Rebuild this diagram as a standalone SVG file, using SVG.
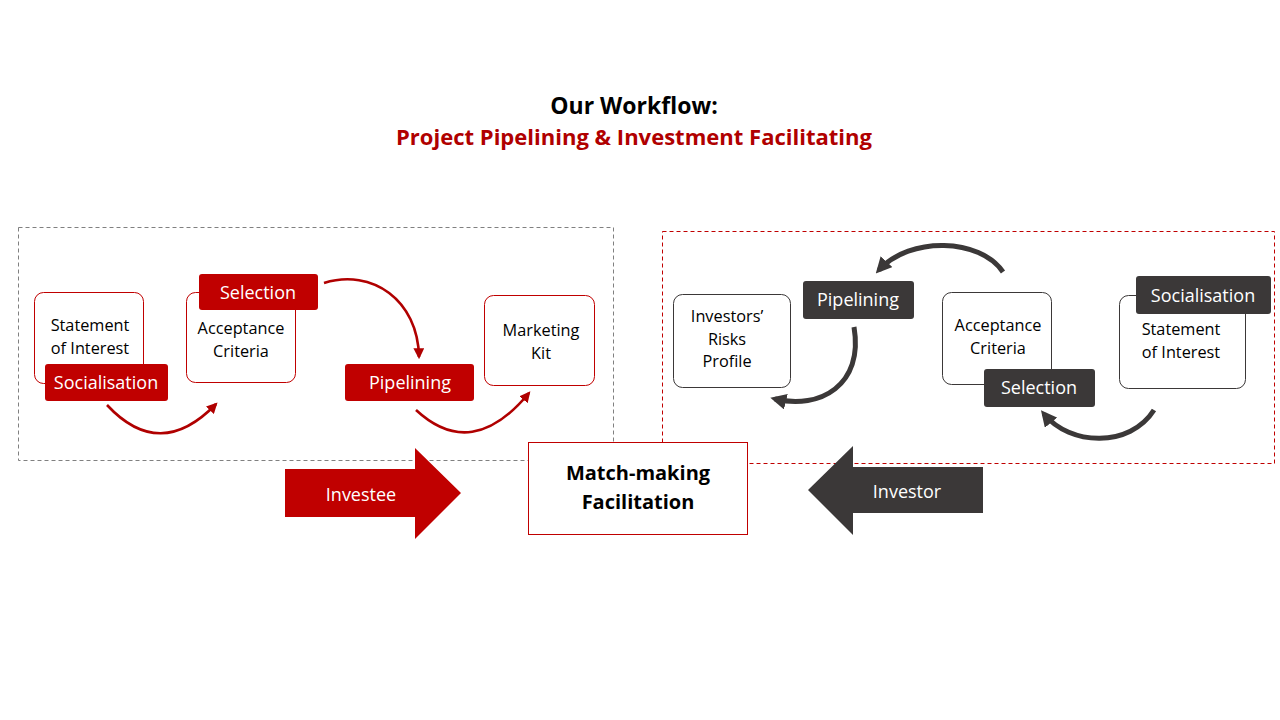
<svg xmlns="http://www.w3.org/2000/svg" width="1280" height="720" viewBox="0 0 1280 720">
<defs>
<style>
.t{font-family:"Open Sans","Liberation Sans",sans-serif;}
.box{fill:#fff;stroke-width:1;}
.rbox{stroke:#c00000;}
.dbox{stroke:#3b3838;}
.lbl{font-size:18px;fill:#fff;text-anchor:middle;dominant-baseline:central;}
.txt{font-size:16.3px;fill:#000;text-anchor:middle;}
.rc{fill:none;stroke:#b00000;stroke-width:2.6;}
.dc{fill:none;stroke:#3b3838;stroke-width:5;}
</style>
<marker id="ar" viewBox="0 0 10 10" refX="8" refY="5" markerWidth="4.2" markerHeight="4.2" orient="auto" markerUnits="strokeWidth">
<path d="M0,0 L10,5 L0,10 z" fill="#b00000"/>
</marker>
<marker id="ad" viewBox="0 0 10 10" refX="7" refY="5" markerWidth="3.2" markerHeight="3.2" orient="auto" markerUnits="strokeWidth">
<path d="M0,0 L10,5 L0,10 z" fill="#3b3838"/>
</marker>
</defs>
<rect width="1280" height="720" fill="#fff"/>

<g id="title" class="t" font-weight="bold" text-anchor="middle">
<text x="634" y="114" font-size="23" fill="#000">Our Workflow:</text>
<text x="634" y="145" font-size="22" fill="#b00000" textLength="476" lengthAdjust="spacingAndGlyphs">Project Pipelining &amp; Investment Facilitating</text>
</g>

<g id="investee-area">
<rect x="18.5" y="227.5" width="595" height="233" fill="none" stroke="#808080" stroke-dasharray="4,3"/>
</g>
<g id="investor-area">
<rect x="662.5" y="231.5" width="612" height="232" fill="none" stroke="#c00000" stroke-dasharray="4,3"/>
</g>

<g id="connectors">
<path class="rc" d="M107,405 Q160,462 216,404" marker-end="url(#ar)"/>
<path class="rc" d="M324,283 C372,268 418,300 419,357" marker-end="url(#ar)"/>
<path class="rc" d="M416,410 Q472,462 529,393" marker-end="url(#ar)"/>
<path class="dc" d="M1003,272 C980,238 910,236 879,270" marker-end="url(#ad)"/>
<path class="dc" d="M854,327 C864,385 820,410 775,399" marker-end="url(#ad)"/>
<path class="dc" d="M1154,410 C1130,448 1070,446 1044,414" marker-end="url(#ad)"/>
</g>

<g id="l-statement" class="t">
<rect class="box rbox" x="34.5" y="292.5" width="109" height="91" rx="9"/>
<text class="txt" x="90" y="331">Statement</text>
<text class="txt" x="90" y="354">of Interest</text>
</g>
<g id="l-socialisation" class="t">
<rect x="45" y="364" width="123" height="37" rx="3" fill="#c00000"/>
<text class="lbl" x="106" y="382">Socialisation</text>
</g>
<g id="l-acceptance" class="t">
<rect class="box rbox" x="186.5" y="292.5" width="109" height="90" rx="9"/>
<text class="txt" x="241" y="334">Acceptance</text>
<text class="txt" x="241" y="357">Criteria</text>
</g>
<g id="l-selection" class="t">
<rect x="199" y="274" width="119" height="36" rx="3" fill="#c00000"/>
<text class="lbl" x="258" y="292">Selection</text>
</g>
<g id="l-pipelining" class="t">
<rect x="345" y="364" width="129" height="37" rx="3" fill="#c00000"/>
<text class="lbl" x="410" y="382">Pipelining</text>
</g>
<g id="l-marketing" class="t">
<rect class="box rbox" x="484.5" y="295.5" width="110" height="90" rx="9"/>
<text class="txt" x="541" y="336">Marketing</text>
<text class="txt" x="541" y="359">Kit</text>
</g>

<g id="r-risks" class="t">
<rect class="box dbox" x="673.5" y="294.5" width="117" height="93" rx="9"/>
<text class="txt" x="727" y="322">Investors’</text>
<text class="txt" x="727" y="345">Risks</text>
<text class="txt" x="727" y="367">Profile</text>
</g>
<g id="r-pipelining" class="t">
<rect x="803" y="281" width="111" height="38" rx="3" fill="#3b3838"/>
<text class="lbl" x="858" y="299">Pipelining</text>
</g>
<g id="r-acceptance" class="t">
<rect class="box dbox" x="942.5" y="292.5" width="109" height="92" rx="9"/>
<text class="txt" x="998" y="331">Acceptance</text>
<text class="txt" x="998" y="354">Criteria</text>
</g>
<g id="r-selection" class="t">
<rect x="984" y="369" width="111" height="38" rx="3" fill="#3b3838"/>
<text class="lbl" x="1039" y="387">Selection</text>
</g>
<g id="r-statement" class="t">
<rect class="box dbox" x="1119.5" y="295.5" width="126" height="93" rx="9"/>
<text class="txt" x="1181" y="335">Statement</text>
<text class="txt" x="1181" y="358">of Interest</text>
</g>
<g id="r-socialisation" class="t">
<rect x="1136" y="276" width="135" height="38" rx="3" fill="#3b3838"/>
<text class="lbl" x="1203" y="295">Socialisation</text>
</g>

<g id="investee" class="t">
<path d="M285,469 L415,469 L415,448 L461,493 L415,539 L415,517 L285,517 z" fill="#c00000"/>
<text class="lbl" x="361" y="494" font-size="21">Investee</text>
</g>
<g id="investor" class="t">
<path d="M983,467 L853,467 L853,446 L808,490 L853,535 L853,513 L983,513 z" fill="#3b3838"/>
<text class="lbl" x="907" y="491" font-size="21">Investor</text>
</g>
<g id="matchmaking" class="t">
<rect x="528.5" y="442.5" width="219" height="92" fill="#fff" stroke="#c00000"/>
<text x="638" y="480" font-size="20" font-weight="bold" text-anchor="middle">Match-making</text>
<text x="638" y="509" font-size="20" font-weight="bold" text-anchor="middle">Facilitation</text>
</g>
</svg>
